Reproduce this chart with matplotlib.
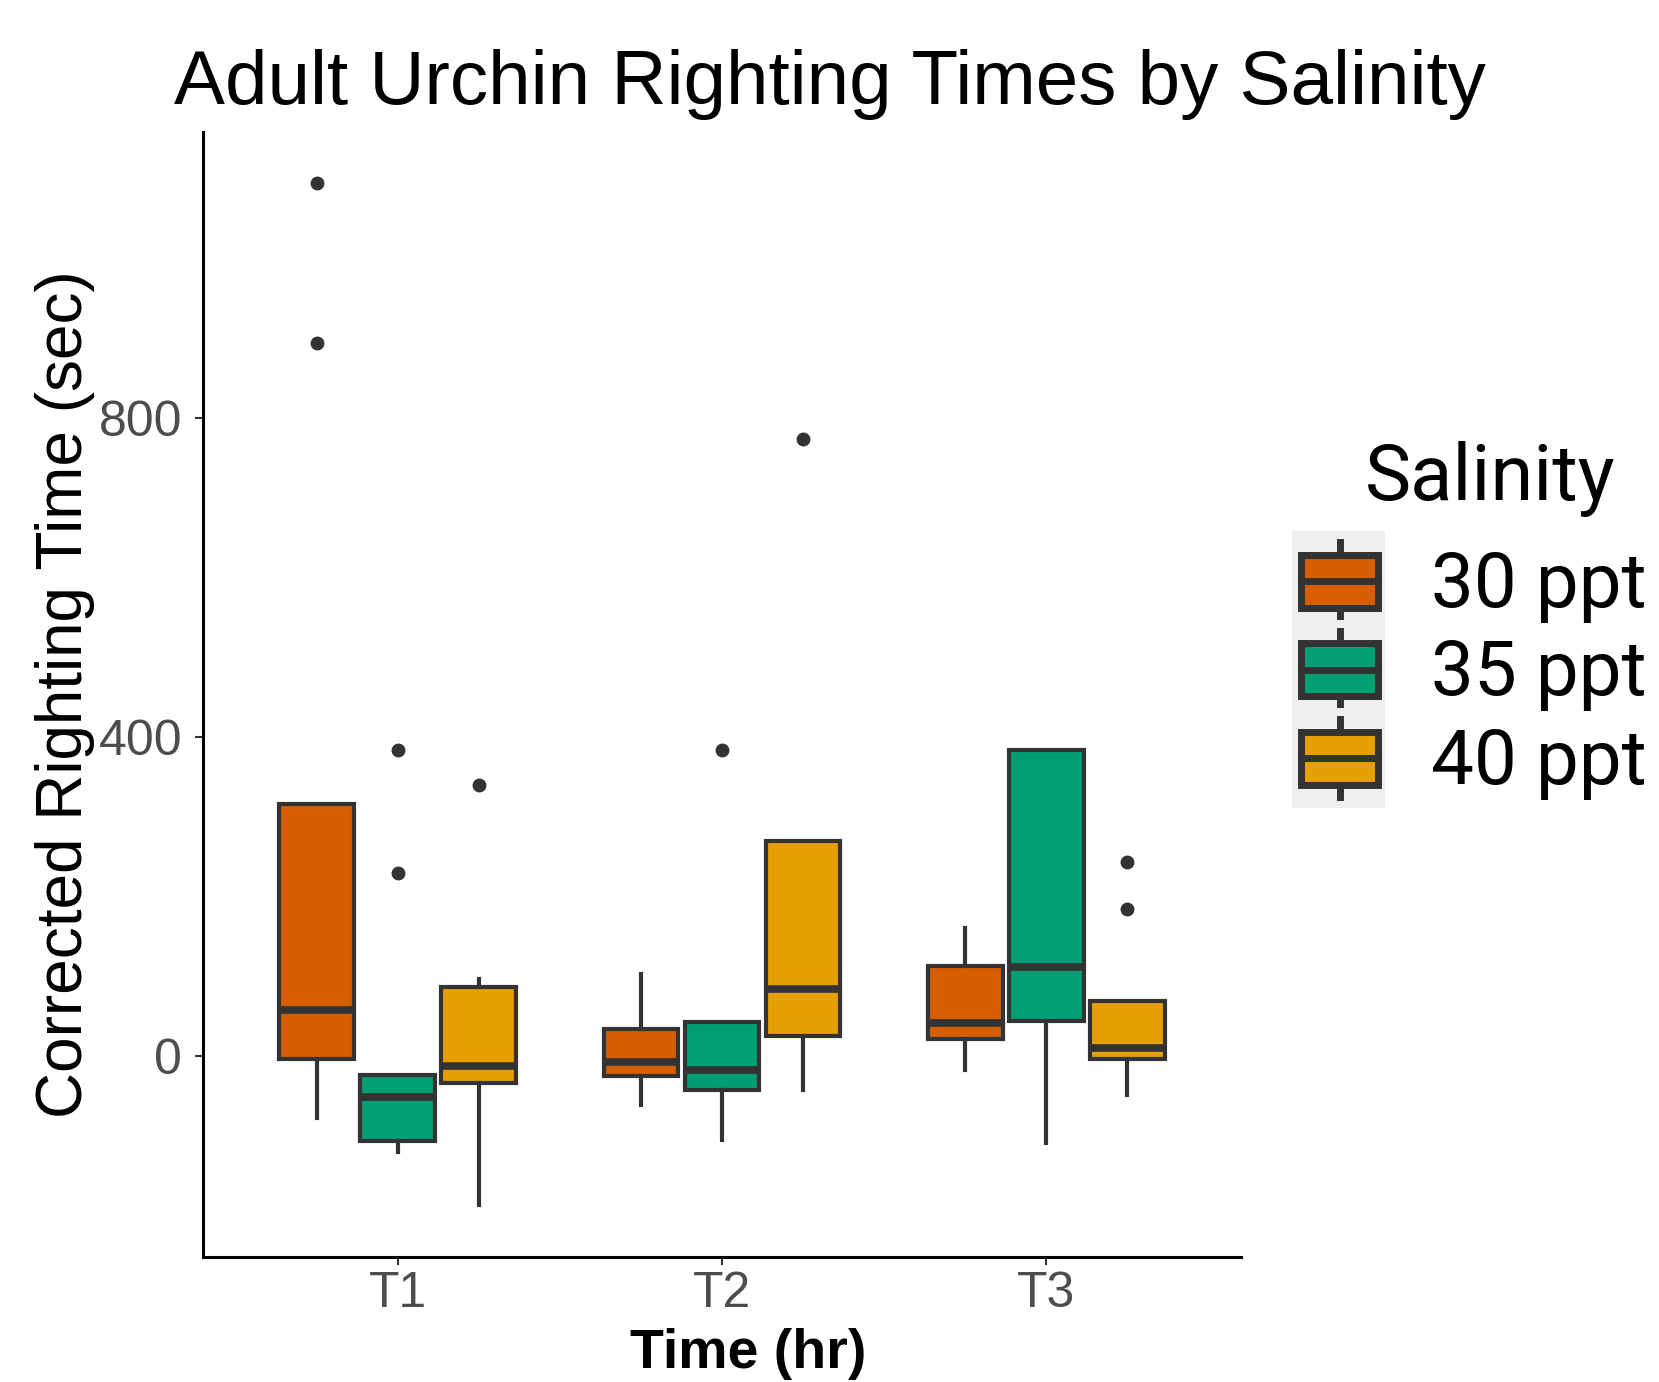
import numpy as np
import matplotlib.pyplot as plt
from matplotlib.patches import Rectangle
from matplotlib.lines import Line2D
from matplotlib.legend_handler import HandlerBase
from matplotlib.font_manager import FontProperties

# Datos (segundos)
tiempos = ["T1", "T2", "T3"]
salinidades = ["30 ppt", "35 ppt", "40 ppt"]
colores = ["#D55E00", "#009E73", "#E69F00"]

# Un valor por tiempo (T1, T2, T3) para cada salinidad
q1_30 = [-4, -25, 21]
mediana_30 = [58, -8, 41]
q3_30 = [316, 34, 113]
bigote_inf_30 = [-78, -61, -18]
bigote_sup_30 = [316, 103, 160]
atipicos_30 = [[893, 1094], [], []]

q1_35 = [-107, -42, 44]
mediana_35 = [-52, -18, 112]
q3_35 = [-24, 43, 383]
bigote_inf_35 = [-120, -105, -109]
bigote_sup_35 = [-24, 43, 383]
atipicos_35 = [[229, 383], [383], []]

q1_40 = [-34, 25, -4]
mediana_40 = [-13, 84, 10]
q3_40 = [87, 269, 69]
bigote_inf_40 = [-187, -42, -49]
bigote_sup_40 = [96, 269, 69]
atipicos_40 = [[339], [773], [184, 243]]

tabla = [
    (q1_30, mediana_30, q3_30, bigote_inf_30, bigote_sup_30, atipicos_30),
    (q1_35, mediana_35, q3_35, bigote_inf_35, bigote_sup_35, atipicos_35),
    (q1_40, mediana_40, q3_40, bigote_inf_40, bigote_sup_40, atipicos_40),
]

gris = "#333333"
fuente_leyenda = "Roboto"
plt.rcParams['font.family'] = ['Liberation Sans', 'DejaVu Sans']

fig = plt.figure(figsize=(16.59, 13.82), dpi=100)
ax = fig.add_axes([0.1224, 0.0904, 0.6256, 0.8141])

desplazamientos = [-0.25, 0.0, 0.25]
for i, sal in enumerate(salinidades):
    q1, med, q3, binf, bsup, atip = tabla[i]
    stats = []
    for j in range(len(tiempos)):
        stats.append(dict(q1=q1[j], med=med[j], q3=q3[j],
                          whislo=binf[j], whishi=bsup[j], fliers=atip[j]))
    pos = np.arange(1, len(tiempos) + 1) + desplazamientos[i]
    ax.bxp(stats, positions=pos, widths=0.23, patch_artist=True, showcaps=False,
           manage_ticks=False,
           boxprops=dict(facecolor=colores[i], edgecolor=gris, linewidth=3),
           medianprops=dict(color=gris, linewidth=5.5, solid_capstyle='butt'),
           whiskerprops=dict(color=gris, linewidth=3),
           flierprops=dict(marker='o', markerfacecolor=gris, markeredgecolor=gris,
                           markersize=9))

ax.set_xlim(0.4, 3.6)
ax.set_ylim(-252, 1158)
ax.set_xticks([1, 2, 3])
ax.set_xticklabels(tiempos)
ax.set_yticks([0, 400, 800])
for lado in ['top', 'right']:
    ax.spines[lado].set_visible(False)
for lado in ['left', 'bottom']:
    ax.spines[lado].set_linewidth(2.2)
    ax.spines[lado].set_color('black')
ax.tick_params(axis='both', length=6, width=1.5, color=gris, labelsize=36,
               labelcolor='#4D4D4D')
ax.tick_params(axis='x', pad=4)
ax.tick_params(axis='y', pad=9)

ax.set_ylabel("Corrected Righting Time (sec)", fontsize=46)
ax.yaxis.set_label_coords(-0.104, 0.5)
ax.set_xlabel("Time (hr)", fontsize=40, fontweight='bold')
ax.xaxis.label.set_verticalalignment('baseline')
ax.xaxis.set_label_coords(0.5255, -0.0987)

fig.text(0.5, 1 - 104 / 1382, "Adult Urchin Righting Times by Salinity",
         ha='center', va='baseline', fontsize=55)


# Leyenda con una cajita de boxplot como simbolo
class HandlerCaja(HandlerBase):
    def create_artists(self, legend, orig_handle, xdescent, ydescent,
                       width, height, fontsize, trans):
        x0, y0 = -xdescent, -ydescent
        fondo = Rectangle((x0, y0 - 4), width, height + 8, facecolor='#EFEFEF',
                          edgecolor='none', transform=trans)
        caja = Rectangle((x0 + 0.1 * width, y0 + 0.2 * height), 0.82 * width, 0.6 * height,
                         facecolor=orig_handle.get_facecolor(), edgecolor=gris,
                         linewidth=5, transform=trans)
        yc = y0 + 0.5 * height
        mediana = Line2D([x0 + 0.1 * width, x0 + 0.92 * width], [yc, yc], color=gris,
                         linewidth=5, transform=trans)
        xc = x0 + 0.51 * width
        b_sup = Line2D([xc, xc], [y0 + 0.8 * height, y0 + 0.94 * height], color=gris,
                       linewidth=5, transform=trans)
        b_inf = Line2D([xc, xc], [y0 + 0.06 * height, y0 + 0.2 * height], color=gris,
                       linewidth=5, transform=trans)
        return [fondo, b_sup, b_inf, caja, mediana]


manijas = [Rectangle((0, 0), 1, 1, facecolor=c) for c in colores]
fig.legend(manijas, salinidades, handler_map={Rectangle: HandlerCaja()},
           loc='upper left', bbox_to_anchor=(1292 / 1659, 1 - 537 / 1382),
           frameon=False, prop=FontProperties(family=fuente_leyenda, size=55),
           handlelength=1.22, handleheight=1.405, handletextpad=0.6,
           labelspacing=0, borderpad=0, borderaxespad=0)
fig.text(1365 / 1659, 1 - 500 / 1382, "Salinity", ha='left', va='baseline',
         fontsize=56, family=fuente_leyenda)

plt.savefig("out.png", dpi=100)
